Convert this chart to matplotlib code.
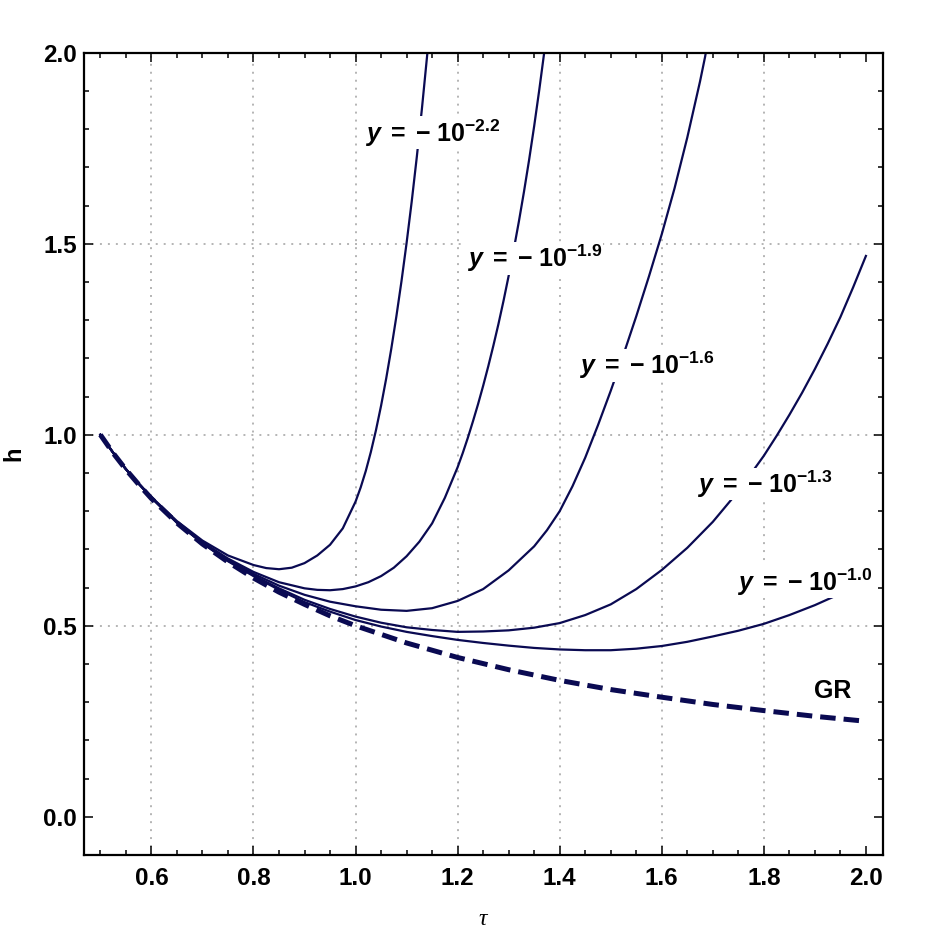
import matplotlib
matplotlib.use("Agg")
import matplotlib.pyplot as plt

# ----------------------------------------------------------------
# data (tau, h)
# ----------------------------------------------------------------
tau_22 = [0.50, 0.525, 0.55, 0.575, 0.60, 0.65, 0.70, 0.75, 0.80, 0.825, 0.85, 0.875, 0.90, 0.925,
          0.95, 0.975, 1.00, 1.01, 1.02, 1.03, 1.04, 1.05, 1.06, 1.07, 1.08, 1.09, 1.10, 1.11,
          1.12, 1.13, 1.14, 1.145]
h_22 = [1.000, 0.953, 0.910, 0.873, 0.837, 0.774, 0.723, 0.684, 0.659, 0.651, 0.648, 0.652, 0.664, 0.684,
        0.712, 0.755, 0.825, 0.862, 0.905, 0.955, 1.012, 1.076, 1.147, 1.225, 1.310, 1.402, 1.502, 1.610,
        1.727, 1.853, 1.989, 2.060]

tau_19 = [0.50, 0.525, 0.55, 0.575, 0.60, 0.65, 0.70, 0.75, 0.80, 0.85, 0.90, 0.925, 0.95, 0.975,
          1.00, 1.025, 1.05, 1.075, 1.10, 1.125, 1.15, 1.175, 1.20, 1.21, 1.22, 1.23, 1.24, 1.25,
          1.26, 1.27, 1.28, 1.29, 1.30, 1.31, 1.32, 1.33, 1.34, 1.35, 1.36, 1.37]
h_19 = [1.000, 0.953, 0.910, 0.872, 0.836, 0.771, 0.719, 0.676, 0.641, 0.614, 0.598, 0.594, 0.593, 0.596,
        0.603, 0.614, 0.630, 0.652, 0.682, 0.720, 0.768, 0.835, 0.915, 0.952, 0.992, 1.035, 1.080, 1.128,
        1.179, 1.233, 1.290, 1.351, 1.416, 1.485, 1.558, 1.636, 1.719, 1.808, 1.903, 2.004]

tau_16 = [0.50, 0.525, 0.55, 0.575, 0.60, 0.65, 0.70, 0.75, 0.80, 0.85, 0.90, 0.95, 1.00, 1.05,
          1.10, 1.15, 1.20, 1.25, 1.30, 1.35, 1.375, 1.40, 1.425, 1.45, 1.475, 1.50, 1.525, 1.55,
          1.575, 1.60, 1.625, 1.65, 1.675, 1.685, 1.69]
h_16 = [1.000, 0.953, 0.910, 0.872, 0.836, 0.770, 0.717, 0.672, 0.636, 0.605, 0.581, 0.563, 0.551, 0.542,
        0.539, 0.546, 0.565, 0.596, 0.645, 0.708, 0.750, 0.800, 0.865, 0.940, 1.025, 1.115, 1.210, 1.310,
        1.415, 1.525, 1.645, 1.778, 1.925, 1.990, 2.030]

tau_13 = [0.50, 0.525, 0.55, 0.575, 0.60, 0.65, 0.70, 0.75, 0.80, 0.85, 0.90, 0.95, 1.00, 1.05,
          1.10, 1.15, 1.20, 1.25, 1.30, 1.35, 1.40, 1.45, 1.50, 1.55, 1.60, 1.65, 1.70, 1.75,
          1.80, 1.825, 1.85, 1.875, 1.90, 1.925, 1.95, 1.975, 2.00]
h_13 = [1.000, 0.953, 0.910, 0.872, 0.835, 0.770, 0.716, 0.670, 0.632, 0.598, 0.568, 0.544, 0.524, 0.508,
        0.496, 0.489, 0.484, 0.485, 0.488, 0.495, 0.507, 0.528, 0.556, 0.596, 0.646, 0.704, 0.772, 0.852,
        0.945, 0.997, 1.052, 1.110, 1.172, 1.238, 1.308, 1.386, 1.468]

tau_10 = [0.50, 0.525, 0.55, 0.575, 0.60, 0.65, 0.70, 0.75, 0.80, 0.85, 0.90, 0.95, 1.00, 1.05,
          1.10, 1.15, 1.20, 1.25, 1.30, 1.35, 1.40, 1.45, 1.50, 1.55, 1.60, 1.65, 1.70, 1.75,
          1.80, 1.85, 1.90, 1.95, 2.00]
h_10 = [1.000, 0.953, 0.910, 0.872, 0.835, 0.770, 0.716, 0.669, 0.630, 0.594, 0.562, 0.537, 0.515, 0.498,
        0.484, 0.473, 0.463, 0.455, 0.448, 0.442, 0.438, 0.436, 0.436, 0.440, 0.447, 0.458, 0.472, 0.487,
        0.505, 0.528, 0.554, 0.584, 0.616]

tau_gr = [0.50, 0.525, 0.55, 0.575, 0.60, 0.65, 0.70, 0.75, 0.80, 0.85, 0.90, 0.95, 1.00, 1.10,
          1.20, 1.30, 1.40, 1.50, 1.60, 1.70, 1.80, 1.90, 2.00]
h_gr = [1.000, 0.952, 0.909, 0.870, 0.833, 0.769, 0.714, 0.667, 0.625, 0.588, 0.556, 0.526, 0.500, 0.455,
        0.417, 0.385, 0.357, 0.333, 0.313, 0.294, 0.278, 0.263, 0.250]

labels = [r"$y\;{=}\;{-}\;10^{-2.2}$", r"$y\;{=}\;{-}\;10^{-1.9}$", r"$y\;{=}\;{-}\;10^{-1.6}$",
          r"$y\;{=}\;{-}\;10^{-1.3}$", r"$y\;{=}\;{-}\;10^{-1.0}$", "GR"]
label_tau = [1.152, 1.351, 1.570, 1.802, 1.880, 1.935]
label_h = [1.790, 1.462, 1.182, 0.871, 0.615, 0.329]

xticks = [0.6, 0.8, 1.0, 1.2, 1.4, 1.6, 1.8, 2.0]
yticks = [0.0, 0.5, 1.0, 1.5, 2.0]
xgrid = [0.6, 0.8, 1.0, 1.2, 1.4, 1.6, 1.8]
ygrid = [0.5, 1.0, 1.5]

# ----------------------------------------------------------------
plt.rcParams['font.family'] = ['Liberation Sans', 'DejaVu Sans']
plt.rcParams['mathtext.fontset'] = 'custom'
plt.rcParams['mathtext.rm'] = 'Liberation Sans:bold'
plt.rcParams['mathtext.it'] = 'Liberation Sans:bold:italic'
plt.rcParams['mathtext.bf'] = 'Liberation Sans:bold'

navy = '#0a0a52'

fig = plt.figure(figsize=(9.38, 9.38), dpi=100)
ax = fig.add_axes([0.0896, 0.0885, 0.8515, 0.8553])

for g in xgrid:
    ax.axvline(g, color='#b4b4b4', lw=1.4, ls=(0, (1.0, 3.1)), zorder=0)
for g in ygrid:
    ax.axhline(g, color='#b4b4b4', lw=1.4, ls=(0, (1.0, 3.1)), zorder=0)

for t, h in [(tau_22, h_22), (tau_19, h_19), (tau_16, h_16), (tau_13, h_13), (tau_10, h_10)]:
    ax.plot(t, h, color=navy, lw=1.6, solid_joinstyle='round')
ax.plot(tau_gr, h_gr, color=navy, lw=3.6, ls=(0, (3.1, 1.6)), dash_capstyle='butt')

for txt, tx, ty in zip(labels, label_tau, label_h):
    ax.text(tx, ty, txt, fontsize=18, fontweight='bold', ha='center', va='center',
            bbox=dict(facecolor='white', edgecolor='none', pad=0.5), zorder=5)

ax.set_xlim(0.468, 2.033)
ax.set_ylim(-0.1, 2.0)
ax.set_xticks(xticks)
ax.set_xticklabels([f"{v:.1f}" for v in xticks])
ax.set_yticks(yticks)
ax.set_yticklabels([f"{v:.1f}" for v in yticks])
ax.xaxis.set_minor_locator(matplotlib.ticker.MultipleLocator(0.05))
ax.yaxis.set_minor_locator(matplotlib.ticker.MultipleLocator(0.1))
ax.tick_params(which='both', direction='in', top=True, right=True, width=1.1)
ax.tick_params(which='major', length=6.5, labelsize=17.5)
ax.tick_params(axis='x', which='major', pad=9)
ax.tick_params(axis='y', which='major', pad=5)
ax.tick_params(which='minor', length=3.8)
for lab in ax.get_xticklabels() + ax.get_yticklabels():
    lab.set_fontweight('bold')
for s in ax.spines.values():
    s.set_linewidth(1.6)

fig.text(483 / 938, 1 - 919 / 938, "τ", fontsize=17, fontstyle='italic',
         family='Liberation Serif', ha='center', va='center')
fig.text(13.5 / 938, 1 - 454 / 938, "h", fontsize=17, fontweight='bold',
         rotation=90, ha='center', va='center')

fig.savefig("out.png", dpi=100)
